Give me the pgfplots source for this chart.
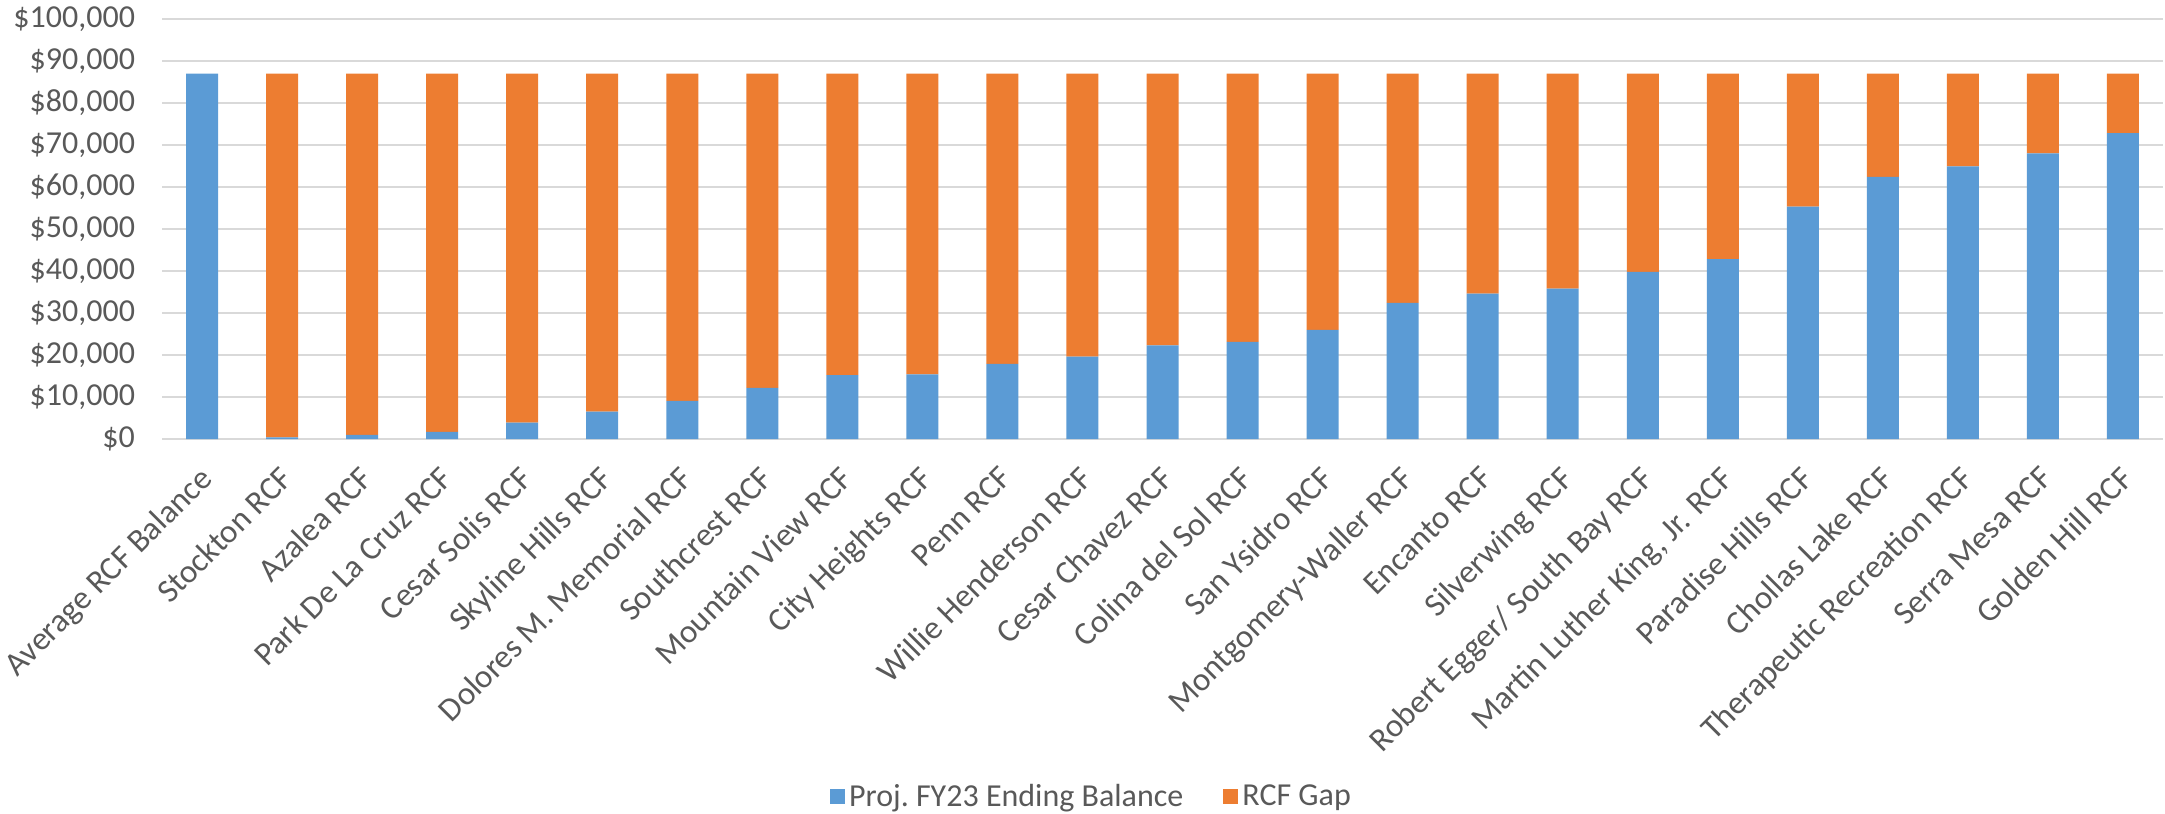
\documentclass[border=0pt]{standalone}
\usepackage{pgfplots}
\pgfplotsset{compat=1.18}
\usepackage{pgfplotstable}
\usepackage{fontspec}
\setmainfont{Carlito}

\definecolor{balblue}{HTML}{5B9BD5}
\definecolor{gaporange}{HTML}{ED7D31}
\definecolor{gridgray}{HTML}{D9D9D9}
\definecolor{txtgray}{HTML}{595959}

% x  balance  gap
\pgfplotstableread{
x  bal    gap
0  87000  0
1  400    86600
2  1000   86000
3  1700   85300
4  3900   83100
5  6500   80500
6  9100   77900
7  12200  74800
8  15200  71800
9  15400  71600
10 17900  69100
11 19600  67400
12 22300  64700
13 23100  63900
14 26000  61000
15 32400  54600
16 34600  52400
17 35800  51200
18 39800  47200
19 42800  44200
20 55300  31700
21 62400  24600
22 64900  22100
23 68000  19000
24 72800  14200
}\rcf

\begin{document}
\begin{tikzpicture}[font=\fontsize{16pt}{19pt}\selectfont]
\begin{axis}[
  name=ax,
  scale only axis,
  width=1000.5pt, height=210pt,
  ybar stacked, bar width=16pt,
  xmin=-0.5, xmax=24.5,
  ymin=0, ymax=100000,
  ytick={0,10000,...,100000},
  xtick=data,
  xticklabels={Average RCF Balance, Stockton RCF, Azalea RCF, Park De La Cruz RCF,
    Cesar Solis RCF, Skyline Hills RCF, Dolores M. Memorial RCF, Southcrest RCF,
    Mountain View RCF, City Heights RCF, Penn RCF, Willie Henderson RCF,
    Cesar Chavez RCF, Colina del Sol RCF, San Ysidro RCF, Montgomery-Waller RCF,
    Encanto RCF, Silverwing RCF, Robert Egger/ South Bay RCF,
    {Martin Luther King, Jr. RCF}, Paradise Hills RCF, Chollas Lake RCF,
    Therapeutic Recreation RCF, Serra Mesa RCF, Golden Hill RCF},
  xticklabel style={yshift=-11pt, xshift=-2pt, rotate=45, anchor=north east,
    text=txtgray, inner sep=1pt, font=\fontsize{16.5pt}{19pt}\selectfont},
  yticklabel style={text=txtgray, xshift=-10pt},
  yticklabel={\$\pgfmathprintnumber{\tick}},
  /pgf/number format/.cd, fixed, 1000 sep={,}, assume math mode=true, /pgfplots/.cd,
  scaled y ticks=false,
  major tick length=0pt,
  axis x line*=bottom, axis y line*=left,
  x axis line style={draw=gridgray, line width=0.75pt},
  y axis line style={draw=none},
  ymajorgrids, major grid style={draw=gridgray, line width=0.75pt},
  legend columns=2,
  legend style={at={(0.465,-0.852)}, anchor=center, draw=none, fill=none,
    text=txtgray, /tikz/every even column/.append style={column sep=18pt}},
  legend image code/.code={\path[#1,draw=none] (0pt,-3.75pt) rectangle (7.5pt,3.75pt);},
]
\addplot[fill=balblue, draw=none] table[x=x, y=bal] {\rcf};
\addlegendentry{Proj.\ FY23 Ending Balance}
\addplot[fill=gaporange, draw=none] table[x=x, y=gap] {\rcf};
\addlegendentry{RCF Gap}
\end{axis}
\pgfresetboundingbox
\path ([shift={(-81pt,-187pt)}]ax.south west) rectangle ([shift={(1pt,9.5pt)}]ax.north east);
\end{tikzpicture}
\end{document}
